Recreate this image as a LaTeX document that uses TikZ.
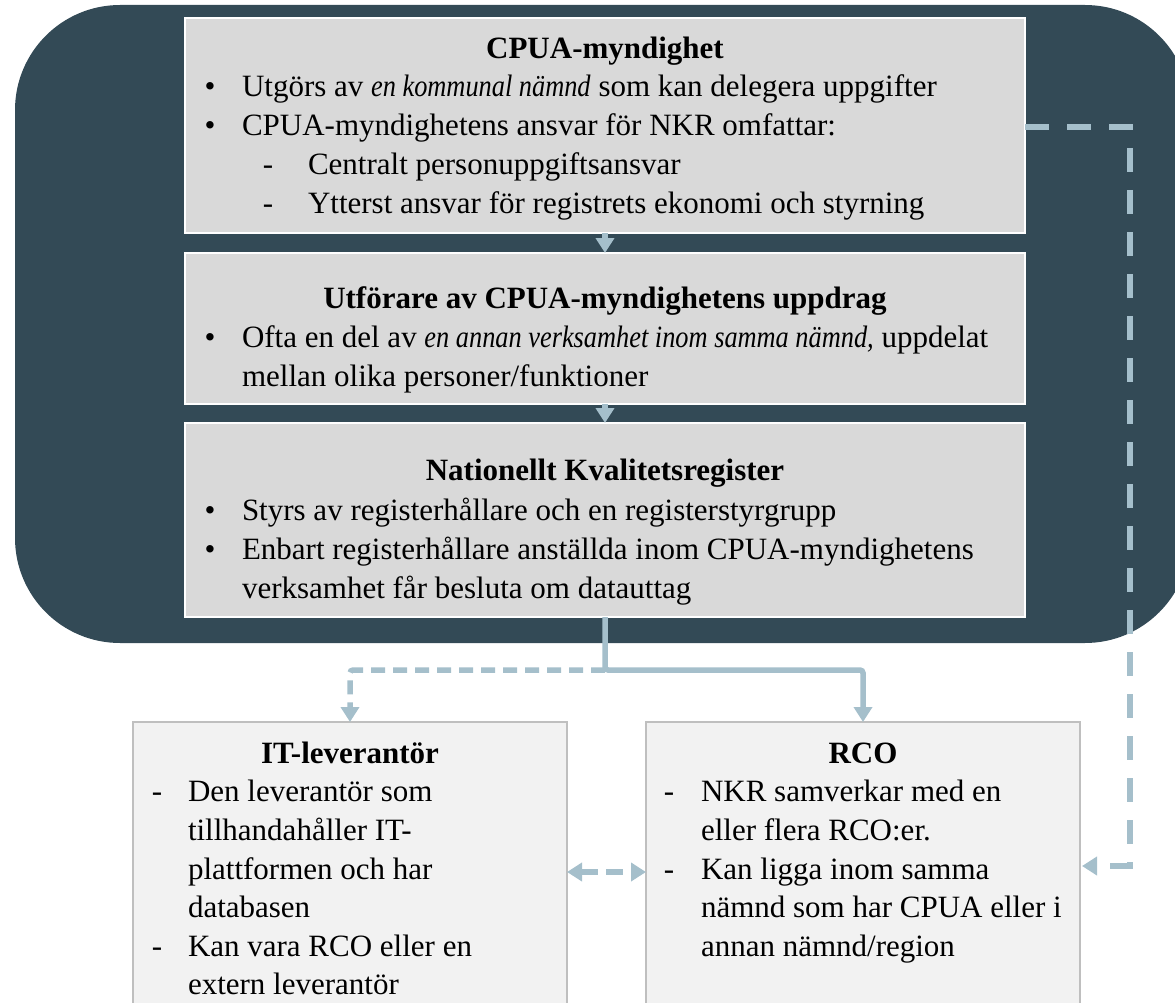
\documentclass[tikz,border=0pt]{standalone}
\usepackage{fontspec}
\setmainfont{Liberation Serif}[ItalicFeatures={FakeStretch=0.85}]
\usetikzlibrary{arrows.meta}
\definecolor{darkbg}{HTML}{334A56}
\definecolor{boxgray}{HTML}{D9D9D9}
\definecolor{boxlight}{HTML}{F2F2F2}
\definecolor{boxline}{HTML}{BFBFBF}
\definecolor{conn}{HTML}{A5BFCB}
\tikzset{
  x=1pt, y=-1pt,
  txt/.style={inner sep=0pt, outer sep=0pt, anchor=base west, font=\fontsize{31}{39}\selectfont},
  ttl/.style={inner sep=0pt, outer sep=0pt, anchor=base, font=\fontsize{31}{39}\selectfont\bfseries},
  mainbox/.style={draw=white, line width=2pt, fill=boxgray},
  subbox/.style={draw=boxline, line width=2.5pt, fill=boxlight},
  connline/.style={draw=conn, line width=5.5pt},
  tip/.style={-{Triangle[width=18pt,length=15pt]}},
  longdash/.style={dash pattern=on 24pt off 18pt},
  shortdash/.style={dash pattern=on 14pt off 8pt},
}
\begin{document}
\begin{tikzpicture}
\useasboundingbox (0,0) rectangle (1175,1003);
% background panel
\fill[darkbg, rounded corners=105pt] (15,5) rectangle (1190,643);
% boxes
\draw[mainbox] (185,18) rectangle (1025,233);
\coordinate (b1top) at (605,18);
\coordinate (b1bot) at (605,233);
\coordinate (b1right) at (1025,127);
\draw[mainbox] (185,253) rectangle (1025,404);
\coordinate (b2top) at (605,253);
\coordinate (b2bot) at (605,404);
\draw[mainbox] (185,423) rectangle (1025,617);
\coordinate (b3top) at (605,423);
\coordinate (b3bot) at (605,617);
\draw[subbox] (133,722) rectangle (567,1020);
\coordinate (ittop) at (350,722);
\coordinate (itright) at (567,872);
\draw[subbox] (646,722) rectangle (1080,1020);
\coordinate (rcotop) at (863,722);
\coordinate (rcoleft) at (646,872);
\coordinate (rcoright) at (1082,866);
% box 1 text
\node[ttl] (t1) at (605,59) {CPUA-myndighet};
\node[txt, anchor=base] (t1b1) at (210,97) {\textbullet};
\node[txt] (t1l1) at (242,97) {Utgörs av \textit{en kommunal nämnd} som kan delegera uppgifter};
\node[txt, anchor=base] (t1b2) at (210,136) {\textbullet};
\node[txt] (t1l2) at (242,136) {CPUA-myndighetens ansvar för NKR omfattar:};
\node[txt, anchor=base] (t1d1) at (268,175) {-};
\node[txt] (t1l3) at (308,175) {Centralt personuppgiftsansvar};
\node[txt, anchor=base] (t1d2) at (268,214) {-};
\node[txt] (t1l4) at (308,214) {Ytterst ansvar för registrets ekonomi och styrning};
% box 2 text
\node[ttl] (t2) at (605,308) {Utförare av CPUA-myndighetens uppdrag};
\node[txt, anchor=base] (t2b1) at (210,347) {\textbullet};
\node[txt] (t2l1) at (242,347) {Ofta en del av \textit{en annan verksamhet inom samma nämnd,} uppdelat};
\node[txt] (t2l2) at (242,386) {mellan olika personer/funktioner};
% box 3 text
\node[ttl] (t3) at (605,480) {Nationellt Kvalitetsregister};
\node[txt, anchor=base] (t3b1) at (210,520) {\textbullet};
\node[txt] (t3l1) at (242,520) {Styrs av registerhållare och en registerstyrgrupp};
\node[txt, anchor=base] (t3b2) at (210,559) {\textbullet};
\node[txt] (t3l2) at (242,559) {Enbart registerhållare anställda inom CPUA-myndighetens};
\node[txt] (t3l3) at (242,598) {verksamhet får besluta om datauttag};
% IT box text
\node[ttl] (t4) at (350,763) {IT-leverantör};
\node[txt, anchor=base] (t4d1) at (157,801) {-};
\node[txt] (t4l1) at (188,801) {Den leverantör som};
\node[txt] (t4l2) at (188,840) {tillhandahåller IT-};
\node[txt] (t4l3) at (188,879) {plattformen och har};
\node[txt] (t4l4) at (188,917) {databasen};
\node[txt, anchor=base] (t4d2) at (157,956) {-};
\node[txt] (t4l5) at (188,956) {Kan vara RCO eller en};
\node[txt] (t4l6) at (188,994) {extern leverantör};
% RCO box text
\node[ttl] (t5) at (863,763) {RCO};
\node[txt, anchor=base] (t5d1) at (669,801) {-};
\node[txt] (t5l1) at (701,801) {NKR samverkar med en};
\node[txt] (t5l2) at (701,840) {eller flera RCO:er.};
\node[txt, anchor=base] (t5d2) at (669,879) {-};
\node[txt] (t5l3) at (701,879) {Kan ligga inom samma};
\node[txt] (t5l4) at (701,917) {nämnd som har CPUA eller i};
\node[txt] (t5l5) at (701,956) {annan nämnd/region};
% connectors
\draw[connline, tip] (b1bot) -- (b2top);
\draw[connline, tip] (b2bot) -- (b3top);
\coordinate (split) at (605,670);
\draw[connline, tip, rounded corners=3pt] (b3bot) -- (split) -| (rcotop);
\draw[connline, tip, shortdash, rounded corners=3pt] (split) -| (ittop);
\draw[connline, {Triangle[width=18pt,length=15pt]}-{Triangle[width=18pt,length=15pt]}, dash pattern=on 17pt off 8pt] (itright) -- (rcoleft);
\draw[connline, tip, longdash] (b1right) -| (1130,866) -- (rcoright);
\end{tikzpicture}
\end{document}
